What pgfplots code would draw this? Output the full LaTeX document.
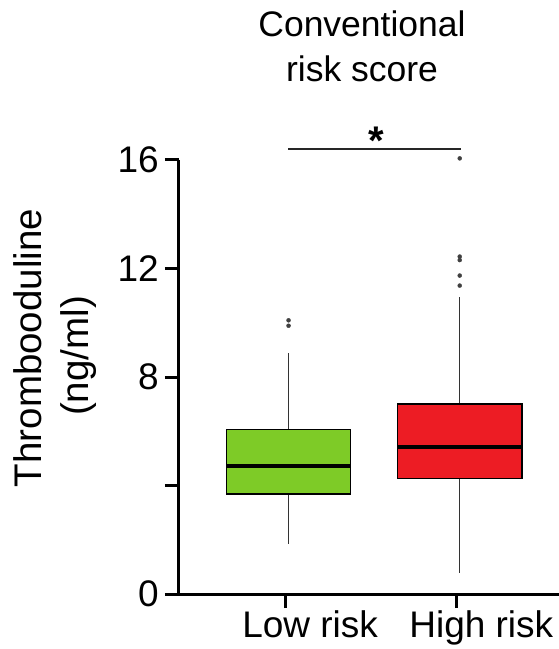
\documentclass[border=0pt]{standalone}
\usepackage{pgfplots}
\pgfplotsset{compat=1.18}
\usepgfplotslibrary{statistics}
\usepackage{fontspec}
\setmainfont{Liberation Sans}
\definecolor{boxgreen}{RGB}{126,203,39}
\definecolor{boxred}{RGB}{237,28,36}
\begin{document}
\begin{tikzpicture}
\begin{axis}[name=ax, scale only axis, width=380pt, height=434pt,
 xmin=0.38, xmax=2.60, ymin=0, ymax=16, clip=false,
 enlargelimits=false,
 axis x line*=bottom, axis y line*=left,
 axis line style={line width=3pt, -},
 tick align=outside, major tick length=14pt,
 every tick/.style={line width=3pt, black},
 xtick={1,2}, xticklabels={Low risk, High risk},
 ytick={0,4,8,12,16}, yticklabels={0,,8,12,16},
 tick label style={font=\fontsize{37}{42}\selectfont},
 xticklabel style={xshift=25pt, inner sep=2pt},
 yticklabel style={inner sep=3pt, xshift=-3pt},
 /pgf/number format/assume math mode=true,
 boxplot/draw direction=y,
]
\addplot[boxplot prepared={draw position=1.02, lower whisker=1.83, lower quartile=3.69, median=4.72, upper quartile=6.07, upper whisker=8.9, box extend=0.725, whisker extend=0,
   every box/.style={draw=black, line width=1.5pt, fill=boxgreen},
   every median/.style={line width=4pt, black},
   every whisker/.style={line width=1.3pt, black!80}},
   mark=*, mark size=2pt, mark options={fill=black!75, draw=black!75}]
 table[row sep=\\, y index=0] {y\\ 10.09\\ 9.89\\};
\addplot[boxplot prepared={draw position=2.02, lower whisker=0.76, lower quartile=4.25, median=5.41, upper quartile=7.0, upper whisker=10.94, box extend=0.725, whisker extend=0,
   every box/.style={draw=black, line width=1.5pt, fill=boxred},
   every median/.style={line width=4pt, black},
   every whisker/.style={line width=1.3pt, black!80}},
   mark=*, mark size=2pt, mark options={fill=black!75, draw=black!75}]
 table[row sep=\\, y index=0] {y\\ 16.06\\ 12.44\\ 12.31\\ 11.74\\ 11.37\\};
\draw[line width=1.3pt, black!85] (axis cs:1.018,16.4) -- (axis cs:2.03,16.4);
\node[font=\fontsize{40}{40}\selectfont\bfseries, anchor=base] at (axis cs:1.53,16.19) {*};
\end{axis}
\node[anchor=base, font=\fontsize{35.5}{40}\selectfont] at ([shift={(183pt,557pt)}]ax.south west) {Conventional};
\node[anchor=base, font=\fontsize{35.5}{40}\selectfont] at ([shift={(183pt,512pt)}]ax.south west) {risk score};
\node[anchor=base, rotate=90, font=\fontsize{38.5}{44}\selectfont] at ([shift={(-137pt,246pt)}]ax.south west) {Thrombooduline};
\node[anchor=base, rotate=90, font=\fontsize{38.5}{44}\selectfont] at ([shift={(-90pt,238pt)}]ax.south west) {(ng/ml)};
\pgfresetboundingbox
\path ([shift={(-179pt,-55pt)}]ax.south west) rectangle ++(559pt,649pt);
\end{tikzpicture}
\end{document}
